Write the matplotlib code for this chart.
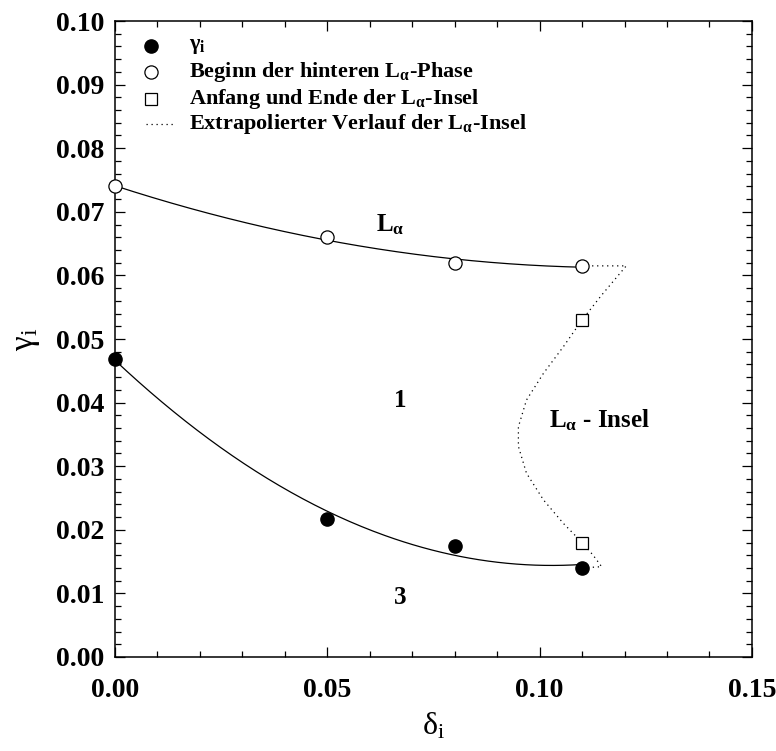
import numpy as np
import matplotlib
matplotlib.use('Agg')
import matplotlib.pyplot as plt
from matplotlib.ticker import MultipleLocator

plt.rcParams['font.family'] = ['Liberation Serif', 'DejaVu Serif']
plt.rcParams['mathtext.fontset'] = 'custom'
plt.rcParams['mathtext.rm'] = 'Liberation Serif'
plt.rcParams['mathtext.bf'] = 'Liberation Serif:bold'
plt.rcParams['mathtext.it'] = 'Liberation Serif:italic'

# measured points
delta = [0.0, 0.05, 0.08, 0.11]
gamma_i = [0.0469, 0.0217, 0.0175, 0.0140]
gamma_la = [0.0740, 0.0660, 0.0620, 0.0615]   # start of rear L_alpha phase
insel_delta = [0.11, 0.11]
insel_gamma = [0.0530, 0.0180]

# extrapolated border of the L_alpha island
extra_delta = [0.110, 0.1204, 0.1146, 0.1100, 0.1056, 0.1009, 0.0969, 0.0950,
               0.0950, 0.0969, 0.1009, 0.1056, 0.1100, 0.1126, 0.1146, 0.1100]
extra_gamma = [0.0615, 0.0615, 0.0569, 0.0530, 0.0488, 0.0446, 0.0404, 0.0362,
               0.0331, 0.0289, 0.0247, 0.0210, 0.0180, 0.0160, 0.0142, 0.0140]

fig = plt.figure(figsize=(7.76, 7.51), dpi=100)
ax = fig.add_axes([0.1482, 0.1252, 0.8208, 0.8468])

# quadratic fits through the measured points
xs = np.linspace(0, 0.11, 200)
fit_low = np.polyfit(delta, gamma_i, 2)
fit_up = np.polyfit(delta, gamma_la, 2)
ax.plot(xs, np.polyval(fit_low, xs), color='black', lw=0.9, zorder=2)
ax.plot(xs, np.polyval(fit_up, xs), color='black', lw=0.9, zorder=2)
ax.plot(extra_delta, extra_gamma, color='black', ls=(0, (1, 3)), lw=0.9, zorder=2)

ax.plot(delta, gamma_i, 'o', color='black', ms=9.5, zorder=3, clip_on=False)
ax.plot(delta, gamma_la, 'o', mfc='white', mec='black', mew=0.9, ms=9.5,
        zorder=3, clip_on=False)
ax.plot(insel_delta, insel_gamma, 's', mfc='white', mec='black', mew=0.9, ms=8,
        zorder=3)

ax.set_xlim(0, 0.15)
ax.set_ylim(0, 0.10)
ax.xaxis.set_major_locator(MultipleLocator(0.05))
ax.xaxis.set_minor_locator(MultipleLocator(0.01))
ax.yaxis.set_major_locator(MultipleLocator(0.01))
ax.yaxis.set_minor_locator(MultipleLocator(0.002))
ax.xaxis.set_major_formatter(lambda v, p: f'{v:.2f}')
ax.yaxis.set_major_formatter(lambda v, p: f'{v:.2f}')
ax.tick_params(which='both', direction='in', top=True, right=True, width=0.9)
ax.tick_params(which='major', length=7, labelsize=20)
ax.tick_params(axis='x', which='major', pad=15)
ax.tick_params(axis='y', which='major', pad=8)
ax.tick_params(which='minor', length=4)
for lab in ax.get_xticklabels() + ax.get_yticklabels():
    lab.set_fontweight('bold')
for s in ax.spines.values():
    s.set_linewidth(1.1)

ax.set_xlabel(r'$\mathrm{\delta_i}$', fontsize=23, labelpad=6)
ax.set_ylabel(r'$\mathrm{\gamma_i}$', fontsize=24, labelpad=10)

# legend drawn by hand
lx = 0.0085
ltx = 0.0175
rows = [0.0960, 0.0920, 0.0878, 0.0838]
ax.plot(lx, rows[0], 'o', color='black', ms=9.5)
ax.plot(lx, rows[1], 'o', mfc='white', mec='black', mew=0.9, ms=9.5)
ax.plot(lx, rows[2], 's', mfc='white', mec='black', mew=0.9, ms=8)
ax.plot([0.0073, 0.0140], [rows[3], rows[3]], color='black', ls=(0, (1, 3)), lw=0.9)
tk = dict(fontsize=16, fontweight='bold', va='center', ha='left')
ax.text(ltx, rows[0], r'$\mathbf{\gamma_i}$', **tk)
ax.text(ltx, rows[1], r'Beginn der hinteren $\mathbf{L_\alpha}$-Phase', **tk)
ax.text(ltx, rows[2], r'Anfang und Ende der $\mathbf{L_\alpha}$-Insel', **tk)
ax.text(ltx, rows[3], r'Extrapolierter Verlauf der $\mathbf{L_\alpha}$-Insel', **tk)

# region labels
rk = dict(fontsize=18, fontweight='bold', ha='center', va='center')
ax.text(0.0648, 0.0680, r'$\mathbf{L_\alpha}$', **rk)
ax.text(0.0671, 0.0403, '1', **rk)
ax.text(0.0671, 0.0094, '3', **rk)
ax.text(0.1140, 0.0373, r'$\mathbf{L_\alpha}$ - Insel', **rk)

fig.savefig('out.png', dpi=100)
